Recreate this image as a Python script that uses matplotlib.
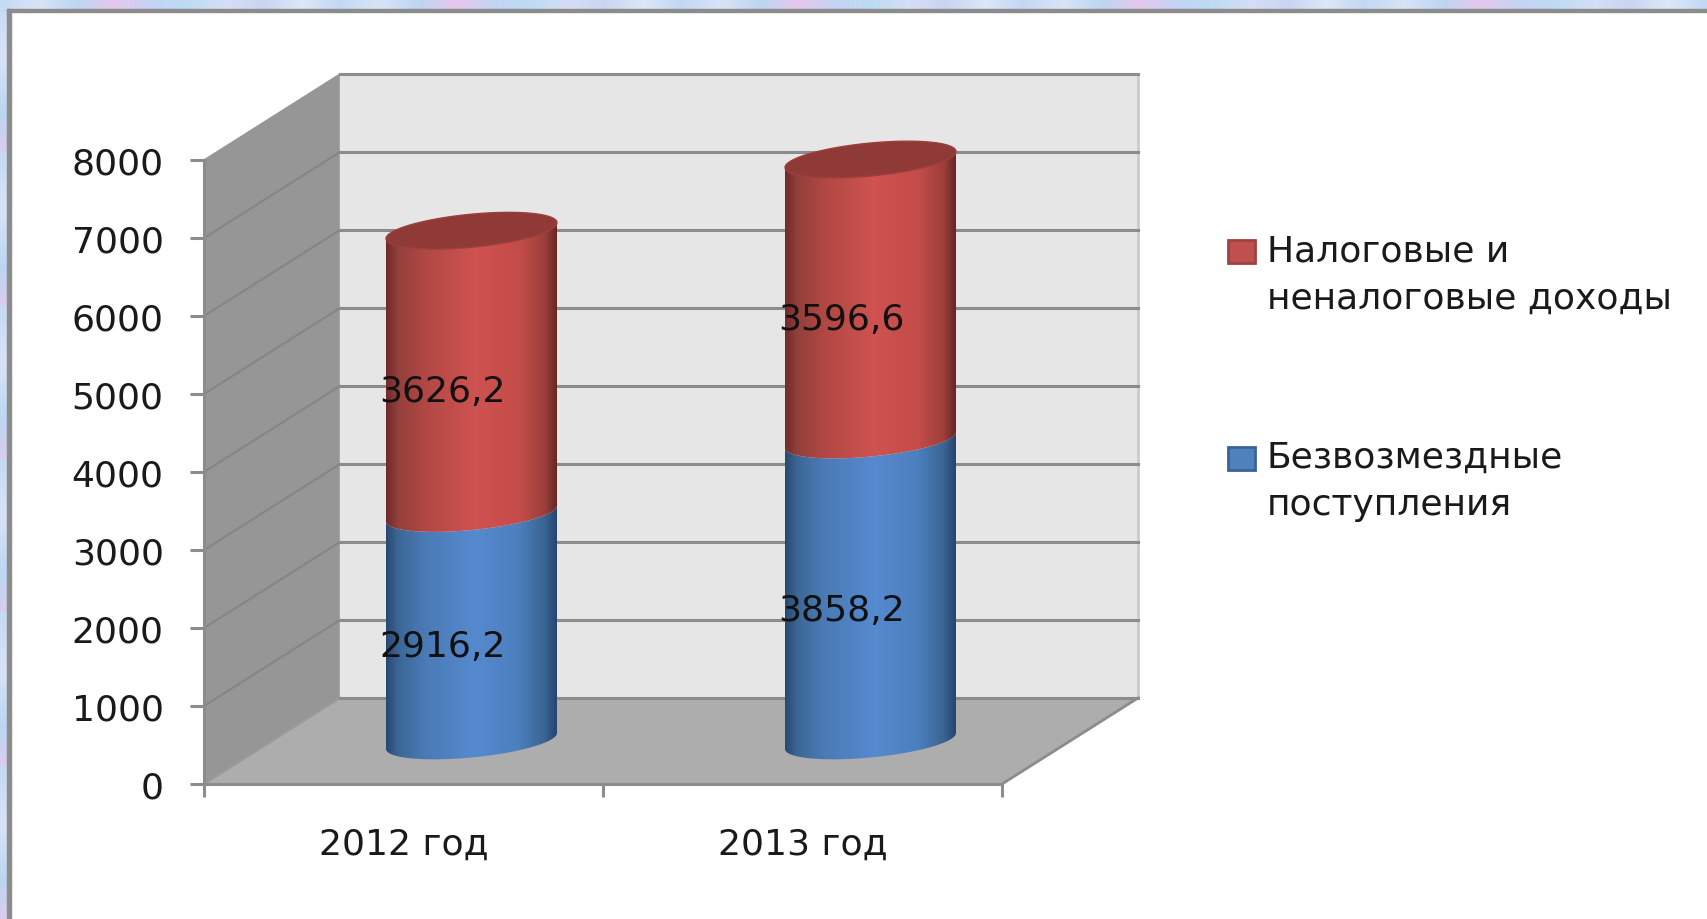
import numpy as np
import matplotlib
matplotlib.use("Agg")
import matplotlib.pyplot as plt
from matplotlib.colors import LinearSegmentedColormap
from matplotlib.patches import Polygon, Rectangle

categories = ["2012 год", "2013 год"]
grants = [2916.2, 3858.2]
taxes = [3626.2, 3596.6]
grant_labels = ["2916,2", "3858,2"]
tax_labels = ["3626,2", "3596,6"]
yticks = [0, 1000, 2000, 3000, 4000, 5000, 6000, 7000, 8000]
legend_rows = ["Налоговые и\nненалоговые доходы", "Безвозмездные\nпоступления"]

W, H = 1708, 920
stops = [0, 0.07, 0.22, 0.52, 0.78, 0.93, 1]
red_stops = ["#702a28", "#93403c", "#b04743", "#cf5350", "#c44c49", "#9c3f3c", "#672624"]
blue_stops = ["#294872", "#3c6696", "#4a7ab5", "#568acf", "#4c7fbd", "#3a6492", "#274570"]
red_cmap = LinearSegmentedColormap.from_list("r", list(zip(stops, red_stops)))
blue_cmap = LinearSegmentedColormap.from_list("b", list(zip(stops, blue_stops)))
grid_color = "#8c8c8c"
font_size = 26

fig = plt.figure(figsize=(W / 100, H / 100), dpi=100)
fig.patch.set_facecolor("white")

# pastel wallpaper showing on top and left
wallpaper = ["#c6daf4", "#d8e4f6", "#bcd6f2", "#e6c8ec", "#c4d4f4", "#bddcf2", "#d6def4", "#c8d6f2", "#dce8f6", "#c2d8f4"]
paper_cmap = LinearSegmentedColormap.from_list("paper", wallpaper)
strip = np.tile(np.linspace(0, 1, 120), 5).reshape(1, -1)
top_ax = fig.add_axes([0, 1 - 10 / H, 1, 10 / H])
top_ax.imshow(strip, cmap=paper_cmap, aspect="auto", interpolation="bilinear")
top_ax.axis("off")
side_ax = fig.add_axes([0, 0, 7 / W, 1])
side_ax.imshow(np.tile(np.linspace(0, 0.3, 60), 6).reshape(-1, 1), cmap=paper_cmap, aspect="auto", vmin=0, vmax=1, interpolation="bilinear")
side_ax.axis("off")
fig.patches.append(Rectangle((7 / W, 1 - 13 / H), 1, 3.5 / H, transform=fig.transFigure, color=grid_color))
fig.patches.append(Rectangle((7 / W, 0), 4 / W, 1 - 10 / H, transform=fig.transFigure, color=grid_color))

# axes is the front plane of the 3d box
left, right, bottom, top = 204, 1002, 785, 161
ax = fig.add_axes([left / W, 1 - bottom / H, (right - left) / W, (bottom - top) / H])
ax.set_facecolor("none")
ax.set_xlim(0, 2)
ax.set_ylim(0, 8000)

ux = (right - left) / 2
uy = (bottom - top) / 8000
dx = 136 / ux
dy = 86 / uy

ax.add_patch(Polygon([(0, 0), (dx, dy), (dx, 8000 + dy), (0, 8000)], color="#969696", clip_on=False, zorder=1))
ax.add_patch(Polygon([(0, 0), (2, 0), (2 + dx, dy), (dx, dy)], color="#adadad", clip_on=False, zorder=1))
ax.add_patch(Rectangle((dx, dy), 2, 8000, color="#e6e6e6", clip_on=False, zorder=1))

ax.plot([2 + dx, 2 + dx], [dy, 8000 + dy], color="#c8c8c8", lw=1.8, clip_on=False, zorder=2)
for t in yticks:
    if t != 8000:
        ax.plot([0, dx], [t, t + dy], color="#858585" if t else "#9a9a9a", lw=1.5, clip_on=False, zorder=2)
    ax.plot([dx, 2 + dx], [t + dy, t + dy], color=grid_color, lw=2.2, clip_on=False, zorder=2)
ax.plot([2, 2 + dx], [0, dy], color=grid_color, lw=2, clip_on=False, zorder=2)

# tilted ellipse, sides stay tangent to the vertical edges
a = 85.5 / ux
b = 16.5 / uy
k = 8.0 / uy
def arc(cx, cy, t0, t1, n=80):
    t = np.linspace(t0, t1, n)
    return np.column_stack([cx + a * np.cos(t), cy + b * np.sin(t) + k * np.cos(t)])

def segment(cx, y0, y1, cmap):
    low = arc(cx, y0 + dy / 2, np.pi, 2 * np.pi)
    up = arc(cx, y1 + dy / 2, 2 * np.pi, np.pi)
    outline = Polygon(np.vstack([low, up]), fc="none", ec="none", clip_on=False)
    ax.add_patch(outline)
    grad = np.linspace(0, 1, 256).reshape(1, -1)
    im = ax.imshow(grad, cmap=cmap, aspect="auto", zorder=3, interpolation="bilinear",
                   extent=[cx - a, cx + a, y0 - 2000, y1 + 2000])
    im.set_clip_box(fig.bbox)
    im.set_clip_path(outline)

for i in range(len(categories)):
    cx = i + 0.5 + dx / 2
    segment(cx, 0, grants[i], blue_cmap)
    segment(cx, grants[i], grants[i] + taxes[i], red_cmap)
    total = grants[i] + taxes[i]
    cap = arc(cx, total + dy / 2, 0, 2 * np.pi)
    ax.add_patch(Polygon(cap, fc="#8f3a37", ec="#9c3f3b", lw=1, clip_on=False, zorder=4))
    tx = i + 0.5 + 39 / ux
    ax.text(tx, grants[i] / 2 + 24 / uy, grant_labels[i], ha="center", va="center", fontsize=font_size, color="#111111", zorder=5)
    ax.text(tx, grants[i] + taxes[i] / 2 + 24 / uy, tax_labels[i], ha="center", va="center", fontsize=font_size, color="#111111", zorder=5)

ax.set_xlim(0, 2)
ax.set_ylim(0, 8000)

for s in ["top", "right"]:
    ax.spines[s].set_visible(False)
for s in ["left", "bottom"]:
    ax.spines[s].set_color(grid_color)
    ax.spines[s].set_linewidth(2.2)
    ax.spines[s].set_zorder(6)
ax.set_yticks(yticks)
ax.set_xticks([0, 1, 2])
ax.set_xticklabels([])
ax.set_xticks([0.5, 1.5], categories, minor=True)
ax.tick_params(axis="y", length=10, width=2.2, color=grid_color, pad=19, labelsize=font_size, labelcolor="#1a1a1a")
ax.tick_params(axis="x", which="major", length=9, width=2.2, color=grid_color)
ax.tick_params(axis="x", which="minor", length=0, pad=31, labelsize=font_size, labelcolor="#1a1a1a")
for lab in ax.get_yticklabels():
    lab.set_verticalalignment("center_baseline")

# legend
for y, row, fc, ec in [(241, legend_rows[0], "#c0504d", "#a04340"), (448, legend_rows[1], "#4f81bd", "#3a6496")]:
    fig.patches.append(Rectangle((1228 / W, 1 - (y + 23) / H), 27 / W, 23 / H, transform=fig.transFigure, fc=fc, ec=ec, lw=2))
    fig.text(1267 / W, 1 - (y - 7) / H, row, fontsize=font_size, color="#1a1a1a", va="top", linespacing=1.5)

fig.savefig("out.png", dpi=100)
